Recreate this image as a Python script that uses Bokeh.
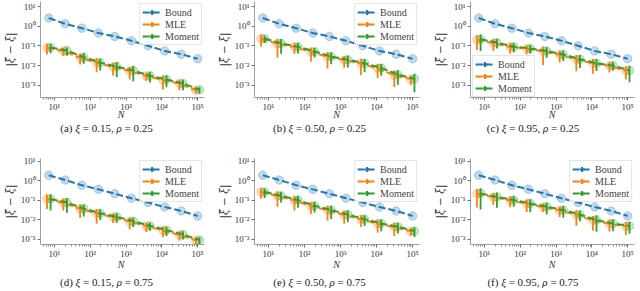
import math
from bokeh.plotting import figure
from bokeh.models import (FixedTicker, CustomJSTickFormatter, Range1d, Legend,
                          LegendItem, Div)
from bokeh.layouts import column, row
from bokeh.embed import file_html
from bokeh.resources import INLINE

# ---------------- data ----------------
N = [7, 20, 59, 170, 490, 1420, 4140, 12000, 34700, 100000]

LETTERS = ["a", "b", "c", "d", "e", "f"]
XI = ["0.15", "0.50", "0.95", "0.15", "0.50", "0.95"]
RHO = ["0.25", "0.25", "0.25", "0.75", "0.75", "0.75"]

BOUND_R025 = [2.7, 1.37, 0.82, 0.46, 0.31, 0.184, 0.102, 0.056, 0.038, 0.022]
BOUND_R075 = [1.95, 1.12, 0.60, 0.37, 0.22, 0.13, 0.078, 0.046, 0.029, 0.016]

MLE = [
    [0.082, 0.055, 0.025, 0.014, 0.0084, 0.0052, 0.0029, 0.0018, 0.0012, 0.00054],
    [0.235, 0.13, 0.089, 0.049, 0.028, 0.019, 0.0126, 0.0071, 0.0032, 0.0020],
    [0.21, 0.14, 0.089, 0.073, 0.053, 0.036, 0.020, 0.0127, 0.0096, 0.0054],
    [0.12, 0.076, 0.037, 0.021, 0.014, 0.0084, 0.0048, 0.0029, 0.0017, 0.00089],
    [0.27, 0.17, 0.10, 0.051, 0.031, 0.018, 0.0107, 0.0063, 0.0043, 0.0026],
    [0.22, 0.148, 0.10, 0.068, 0.046, 0.031, 0.018, 0.0094, 0.0063, 0.0047],
]
MOMENT = [
    [0.085, 0.058, 0.027, 0.014, 0.0088, 0.0055, 0.0030, 0.0019, 0.0012, 0.00057],
    [0.24, 0.135, 0.092, 0.052, 0.029, 0.020, 0.0130, 0.0075, 0.0034, 0.0021],
    [0.22, 0.15, 0.092, 0.075, 0.055, 0.037, 0.021, 0.0130, 0.0100, 0.0056],
    [0.12, 0.078, 0.038, 0.022, 0.0145, 0.0087, 0.0050, 0.0030, 0.0018, 0.00093],
    [0.27, 0.175, 0.105, 0.053, 0.032, 0.019, 0.0110, 0.0066, 0.0045, 0.0027],
    [0.23, 0.15, 0.105, 0.070, 0.048, 0.032, 0.019, 0.0098, 0.0066, 0.0049],
]
# relative standard deviation (std / value) of each estimate
MLE_RSD = [
    [0.55, 0.45, 0.55, 0.68, 0.65, 0.63, 0.45, 0.67, 0.55, 0.30],
    [0.60, 0.80, 0.55, 0.68, 0.75, 0.60, 0.75, 0.68, 0.75, 0.50],
    [0.70, 0.60, 0.55, 0.50, 0.80, 0.60, 0.75, 0.70, 0.55, 0.65],
    [0.70, 0.60, 0.65, 0.70, 0.50, 0.60, 0.50, 0.55, 0.50, 0.45],
    [0.55, 0.72, 0.70, 0.60, 0.70, 0.65, 0.60, 0.65, 0.65, 0.40],
    [0.80, 0.60, 0.55, 0.63, 0.45, 0.55, 0.72, 0.70, 0.60, 0.65],
]
MOMENT_RSD = [
    [0.50, 0.45, 0.55, 0.60, 0.72, 0.72, 0.55, 0.60, 0.55, 0.35],
    [0.40, 0.70, 0.55, 0.50, 0.60, 0.60, 0.65, 0.60, 0.70, 0.80],
    [0.75, 0.50, 0.50, 0.45, 0.55, 0.55, 0.65, 0.60, 0.45, 0.75],
    [0.75, 0.70, 0.60, 0.55, 0.50, 0.50, 0.45, 0.50, 0.45, 0.40],
    [0.50, 0.55, 0.60, 0.55, 0.65, 0.60, 0.55, 0.60, 0.55, 0.50],
    [0.85, 0.72, 0.55, 0.65, 0.60, 0.60, 0.55, 0.75, 0.60, 0.60],
]

X_TICKS = [10, 100, 1000, 10000, 100000]
Y_TICKS = [0.001, 0.01, 0.1, 1, 10]
SERIES = ["Bound", "MLE", "Moment"]

# ---------------- styling / layout ----------------
BLUE, ORANGE, GREEN = "#1f77b4", "#ff7f0e", "#2ca02c"
SERIF = "Liberation Serif"
DASH = "7 3"
OFFSET = 10 ** 0.05
CELL_W = [213, 213, 214]
FRAME_L = [38, 41, 44]
FRAME_W = [166, 165, 164]
# per row: top border, frame height, bottom border, caption block height
ROW_GEOM = [(1, 96, 17, 31), (13, 86, 17, 30)]
Y_LIMITS = [(10 ** -3.64, 10 ** 1.28), (10 ** -3.26, 10 ** 1.15)]
N_SHIFT = [-4, -1]
CAP_PAD = [1, 5]

fmt = CustomJSTickFormatter(code="""
const e = Math.round(Math.log10(tick));
const m = {"-":"\\u207b","0":"\\u2070","1":"\\u00b9","2":"\\u00b2","3":"\\u00b3",
           "4":"\\u2074","5":"\\u2075","6":"\\u2076","7":"\\u2077","8":"\\u2078","9":"\\u2079"};
return "10" + String(e).split("").map(c => m[c]).join("");
""")

x_minor = [m * 10 ** k for k in range(0, 6) for m in range(2, 10)]


def make_panel(i):
    r, c = i // 3, i % 3
    top, frame_h, bottom, cap_h = ROW_GEOM[r]
    w = CELL_W[c]
    left = FRAME_L[c]
    right = w - left - FRAME_W[c]
    y0, y1 = Y_LIMITS[r]
    p = figure(width=w, height=top + frame_h + bottom,
               x_axis_type="log", y_axis_type="log",
               x_range=Range1d(10 ** 0.614, 10 ** 5.19), y_range=Range1d(y0, y1),
               output_backend="svg", toolbar_location=None,
               min_border_left=left, min_border_right=right,
               min_border_top=top, min_border_bottom=bottom)
    p.grid.visible = False
    p.outline_line_color = None
    p.background_fill_color = "white"

    bound = BOUND_R025 if r == 0 else BOUND_R075
    xm = [n / OFFSET for n in N]
    xg = [n * OFFSET for n in N]
    mle, mom = MLE[i], MOMENT[i]

    # translucent markers
    p.scatter(N, bound, size=8.5, color=BLUE, alpha=0.28)
    p.scatter(xm, mle, size=8.5, color=ORANGE, alpha=0.28)
    p.scatter(xg, mom, size=8.5, color=GREEN, alpha=0.28)

    # dashed lines and error bars
    lb = p.line(N, bound, line_color=BLUE, line_width=2, line_dash=DASH)
    lm = p.line(xm, mle, line_color=ORANGE, line_width=2, line_dash=DASH)
    p.segment(xm, [v * (1 - s) for v, s in zip(mle, MLE_RSD[i])],
              xm, [v * (1 + s) for v, s in zip(mle, MLE_RSD[i])],
              line_color=ORANGE, line_width=1.8)
    lg = p.line(xg, mom, line_color=GREEN, line_width=2, line_dash=DASH)
    p.segment(xg, [v * (1 - s) for v, s in zip(mom, MOMENT_RSD[i])],
              xg, [v * (1 + s) for v, s in zip(mom, MOMENT_RSD[i])],
              line_color=GREEN, line_width=1.8)

    # legend-only "+" markers (horizontal arm merges with the line)
    nan = float("nan")
    items = []
    for name, col, ln in zip(SERIES, [BLUE, ORANGE, GREEN], [lb, lm, lg]):
        bar = p.scatter([nan], [nan], marker="cross", size=10,
                        line_color=col, line_width=2)
        items.append(LegendItem(label=name, renderers=[ln, bar]))
    loc = (2, 0) if i == 2 else "top_right"
    leg = Legend(items=items, location=loc, label_text_font=SERIF,
                 label_text_font_size="10px", glyph_width=19, glyph_height=12,
                 label_height=10, spacing=-1, padding=2, margin=2,
                 label_standoff=4, border_line_color="#cccccc",
                 background_fill_alpha=0.8)
    p.add_layout(leg)

    for ax in (p.xaxis[0], p.yaxis[0]):
        ax.formatter = fmt
        ax.axis_line_color = "#a0a0a0"
        ax.major_tick_line_color = "#707070"
        ax.minor_tick_line_color = "#909090"
        ax.major_tick_out = 3
        ax.major_tick_in = 0
        ax.minor_tick_out = 2
        ax.minor_tick_in = 0
        ax.major_label_text_font = SERIF
        ax.major_label_text_font_size = "9px"
        ax.major_label_text_color = "#333333"
        ax.major_label_standoff = 1
        ax.axis_label_text_color = "#333333"
        ax.axis_label_standoff = 2
    p.xaxis[0].ticker = FixedTicker(ticks=X_TICKS, minor_ticks=x_minor)
    p.yaxis[0].ticker = FixedTicker(ticks=Y_TICKS, minor_ticks=[])
    p.yaxis[0].major_label_standoff = 2
    p.yaxis[0].axis_label = "|ξ̂ − ξ|"
    p.yaxis[0].axis_label_text_font = "DejaVu Serif"
    p.yaxis[0].axis_label_text_font_size = "10.5px"
    p.yaxis[0].axis_label_text_font_style = "italic"

    # x-axis title and sub-caption below the plot
    cap = Div(text=(
        f'<div style="width:{w}px;font-family:\'{SERIF}\',serif;color:#222;">'
        f'<div style="margin-top:{N_SHIFT[r]}px;margin-left:{left}px;width:{FRAME_W[c]}px;'
        f'text-align:center;font-size:10px;line-height:10px;font-style:italic;color:#333;">N</div>'
        f'<div style="padding-top:{CAP_PAD[r]}px;text-align:center;font-size:11px;line-height:14px;">'
        f'({LETTERS[i]}) <i>ξ</i> = {XI[i]}, <i>ρ</i> = {RHO[i]}</div></div>'),
        width=w, height=cap_h, margin=(0, 0, 0, 0))
    return column(p, cap, spacing=0)


cells = [make_panel(i) for i in range(6)]
layout = column(row(*cells[:3], spacing=0), row(*cells[3:], spacing=0), spacing=0)

open("out.html", "w").write(file_html(layout, INLINE))
